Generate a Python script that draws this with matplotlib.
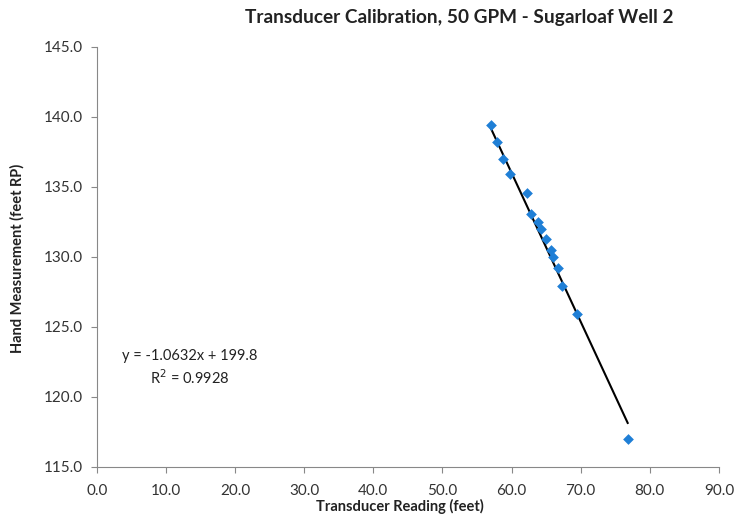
import matplotlib
matplotlib.use("Agg")
import matplotlib.pyplot as plt
import numpy as np

plt.rcParams['font.family'] = ['Lato', 'DejaVu Sans']

transducer = [57.0, 57.9, 58.8, 59.8, 62.2, 62.8, 63.8, 64.3, 65.0, 65.7, 66.0, 66.7, 67.3, 69.5, 76.8]
hand = [139.4, 138.2, 137.0, 135.9, 134.6, 133.1, 132.5, 132.0, 131.3, 130.5, 130.0, 129.2, 127.9, 125.9, 117.0]
slope = -1.0632
intercept = 199.8
r2 = 0.9928
xticks = [0, 10, 20, 30, 40, 50, 60, 70, 80, 90]
yticks = [115, 120, 125, 130, 135, 140, 145]

fig = plt.figure(figsize=(7.45, 5.16), dpi=100)
ax = fig.add_axes([0.130, 0.095, 0.835, 0.814])

xs = np.array([min(transducer), max(transducer)])
ax.plot(xs, slope * xs + intercept, color='black', lw=1.5, zorder=2)
ax.scatter(transducer, hand, marker='D', s=30, color='#1f7fd6', zorder=3, linewidths=0)

ax.set_xlim(0, 90)
ax.set_ylim(115, 145)
ax.set_xticks(xticks)
ax.set_yticks(yticks)
ax.set_xticklabels([f"{v:.1f}" for v in xticks])
ax.set_yticklabels([f"{v:.1f}" for v in yticks])
for s in ['top', 'right']:
    ax.spines[s].set_visible(False)
for s in ['left', 'bottom']:
    ax.spines[s].set_color('#888888')
    ax.spines[s].set_linewidth(0.8)
ax.tick_params(axis='both', direction='out', length=4, color='#888888', labelsize=11, labelcolor='#333333')
ax.tick_params(axis='x', pad=8)
ax.tick_params(axis='y', pad=6)

fig.text(0.617, 0.967, 'Transducer Calibration, 50 GPM - Sugarloaf Well 2', ha='center', va='center',
         fontsize=13.7, fontweight='bold', color='#222222')
fig.text(0.537, 0.018, 'Transducer Reading (feet)', ha='center', va='center',
         fontsize=10.5, fontweight='bold', color='#222222')
fig.text(0.023, 0.50, 'Hand Measurement (feet RP)', ha='center', va='center', rotation=90,
         fontsize=10.5, fontweight='bold', color='#222222')
ax.text(0.15, 0.264, f'y = {slope}x + {intercept}', transform=ax.transAxes, ha='center', va='center',
        fontsize=10.5, color='#222222')
ax.text(0.15, 0.212, f'R$^2$ = {r2}', transform=ax.transAxes, ha='center', va='center',
        fontsize=10.5, color='#222222')

fig.savefig('out.png', dpi=100, facecolor='white')
